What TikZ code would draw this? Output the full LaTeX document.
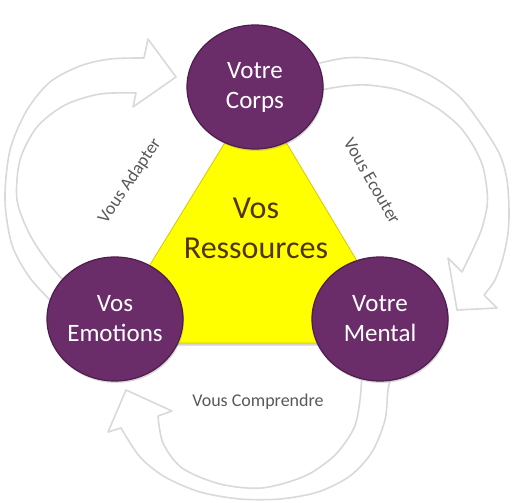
\documentclass[tikz,border=0pt]{standalone}
\usepackage{fontspec}
\setmainfont{Carlito}
\usetikzlibrary{shapes.geometric,shadows}
\definecolor{vpurple}{RGB}{107,44,106}
\definecolor{vpurpledark}{RGB}{78,29,77}
\definecolor{vyellow}{RGB}{255,255,0}
\definecolor{vyellowdark}{RGB}{214,200,0}
\definecolor{vbrown}{RGB}{80,52,10}
\definecolor{vgrey}{RGB}{89,89,89}
\definecolor{varrow}{RGB}{217,217,217}
\begin{document}
\begin{tikzpicture}[x=1pt,y=-1pt,
	bulle/.style={ellipse,minimum width=136pt,minimum height=124pt,inner sep=0pt,
		fill=vpurple,draw=vpurpledark,line width=1.2pt,text=white,align=center,
		font=\fontsize{25}{30}\selectfont,
		drop shadow={opacity=0.3,shadow xshift=1pt,shadow yshift=-2pt}},
	lien/.style={text=vgrey,font=\fontsize{18}{22}\selectfont},
	fleche/.style={fill=white,draw=varrow,line width=1.6pt,line join=round}]
	\useasboundingbox (0,0) rectangle (515,503);
	% les trois fleches
	\draw[fleche] plot[smooth] coordinates {(55,305) (30,278) (12,245) (5,200) (10,150) (27,110) (50,82) (80,66) (110,59) (144,58)}
		-- (148,39) -- (176,77) -- (133,107) -- (136,93)
		-- plot[smooth] coordinates {(136,93) (100,94) (65,105) (37,127) (20,160) (17,200) (30,235) (50,265) (72,290)} -- cycle;
	\draw[fleche] plot[smooth] coordinates {(305,68) (320,63) (345,58) (367,58) (400,63) (433,77) (460,97) (483,127) (500,155) (507,180) (509,210) (508,233) (503,258) (495,280) (484,295)}
		-- (497,308) -- (457,310) -- (448,258) -- (462,272)
		-- plot[smooth] coordinates {(462,272) (475,245) (482,228) (487,207) (487,190) (483,167) (474,147) (460,127) (440,110) (417,97) (395,89) (367,85) (345,86) (322,90) (310,95)} -- cycle;
	\draw[fleche] plot[smooth] coordinates {(393,368) (388,390) (385,420) (372,452) (350,476) (318,492) (280,499) (240,499) (200,492) (165,477) (140,457) (121,428)}
		-- (108,432) -- (126,390) -- (172,411) -- (158,416)
		-- plot[smooth] coordinates {(158,416) (163,443) (182,468) (220,484) (262,488) (305,476) (335,455) (354,428) (360,400) (362,372)} -- cycle;
	% le triangle
	\coordinate (sommet) at (256,92);
	\coordinate (gauche) at (102,343);
	\coordinate (droite) at (406,343);
	\draw[fill=vyellow,draw=vyellowdark,line width=0.8pt,drop shadow={opacity=0.35,shadow xshift=0pt,shadow yshift=-2.5pt}]
		(sommet) -- (droite) -- (gauche) -- cycle;
	\node[text=vbrown,align=center,font=\fontsize{32}{40}\selectfont] (ress) at (256,228) {Vos\\Ressources};
	% les liens
	\node[lien,rotate=56] (adapt) at (130,181) {Vous Adapter};
	\node[lien,rotate=-60] (ecout) at (372,181) {Vous Ecouter};
	\node[lien] (compr) at (258,402) {Vous Comprendre};
	% les bulles
	\node[bulle] (corps) at (255,87) {Votre\\Corps};
	\node[bulle] (emo) at (115,319) {Vos\\Emotions};
	\node[bulle] (mental) at (380,319) {Votre\\Mental};
\end{tikzpicture}
\end{document}
